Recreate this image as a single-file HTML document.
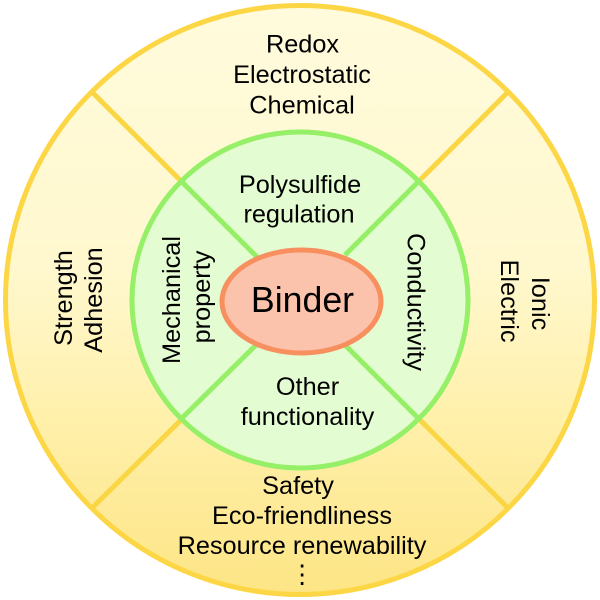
<!DOCTYPE html>
<html>
<head>
<meta charset="utf-8">
<style>
html,body{margin:0;padding:0;background:#fff;width:600px;height:600px;overflow:hidden}
svg{display:block}
text{font-family:"Liberation Sans",Arial,sans-serif;fill:#000;text-anchor:middle}
</style>
</head>
<body>
<svg width="600" height="600" viewBox="0 0 600 600" xmlns="http://www.w3.org/2000/svg">
<defs>
<linearGradient id="g" x1="0" y1="0" x2="0" y2="1">
<stop offset="0" stop-color="#fffbdc"/>
<stop offset="0.45" stop-color="#fff8ce"/>
<stop offset="0.7" stop-color="#fff0ab"/>
<stop offset="1" stop-color="#fde585"/>
</linearGradient>
</defs>
<circle cx="300" cy="300" r="294.5" fill="url(#g)" stroke="#fdd646" stroke-width="5"/>
<g stroke="#fad544" stroke-width="5">
<line x1="92" y1="92" x2="181" y2="181"/>
<line x1="508" y1="92" x2="420" y2="180"/>
<line x1="92" y1="508" x2="181" y2="420"/>
<line x1="508" y1="508" x2="420" y2="420"/>
</g>
<circle cx="300" cy="300" r="168" fill="#e4fcd2" stroke="#95ef67" stroke-width="5"/>
<g stroke="#95ef67" stroke-width="5">
<line x1="181" y1="181" x2="258" y2="258"/>
<line x1="420" y1="180" x2="345" y2="255"/>
<line x1="181" y1="419" x2="256" y2="345"/>
<line x1="420" y1="420" x2="346" y2="346"/>
</g>
<ellipse cx="301.5" cy="301.5" rx="79.5" ry="51.5" fill="#fcc3ac" stroke="#f78f5e" stroke-width="5"/>
<text x="302.5" y="312" font-size="35.7">Binder</text>
<g font-size="25.3">
<text x="302.5" y="52.5">Redox</text>
<text x="302" y="83">Electrostatic</text>
<text x="302" y="113.5">Chemical</text>
<text x="300" y="193">Polysulfide</text>
<text x="299" y="222.5">regulation</text>
<text x="307.5" y="395">Other</text>
<text x="307.5" y="425">functionality</text>
<text x="298" y="494">Safety</text>
<text x="302" y="524">Eco-friendliness</text>
<text x="302" y="554">Resource renewability</text>
<text x="302" y="583">⋮</text>
<text transform="translate(72,298) rotate(-90)">Strength</text>
<text transform="translate(102,300) rotate(-90)">Adhesion</text>
<text transform="translate(180,300) rotate(-90)">Mechanical</text>
<text transform="translate(210,297) rotate(-90)">property</text>
<text transform="translate(407.5,302) rotate(90)">Conductivity</text>
<text transform="translate(501,301) rotate(90)">Electric</text>
<text transform="translate(532,303.5) rotate(90)">Ionic</text>
</g>
</svg>
</body>
</html>
